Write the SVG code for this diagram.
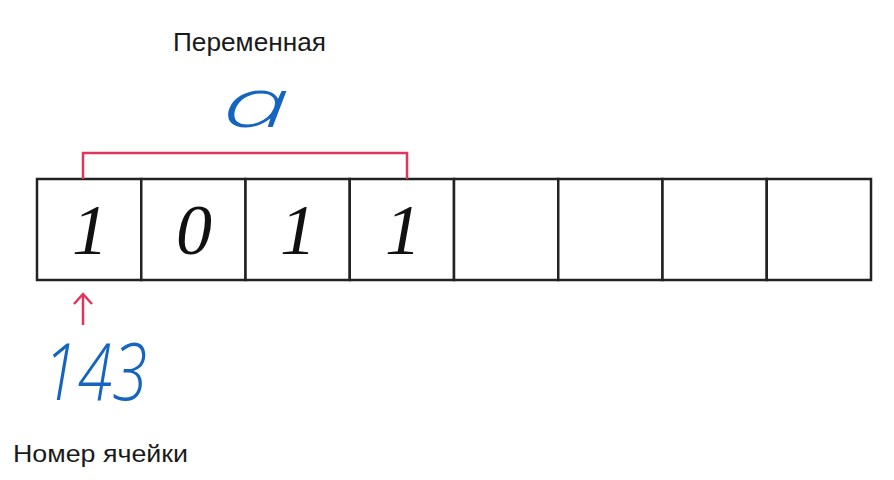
<svg xmlns="http://www.w3.org/2000/svg" width="894" height="480" viewBox="0 0 894 480">
<style>
.cell{fill:#fff;stroke:#222;stroke-width:2.5}
.digit{font-family:"Liberation Serif",serif;font-style:italic;font-size:72px;fill:#111;text-anchor:middle}
.label{font-family:"Liberation Sans",Arial,sans-serif;fill:#1a1a1a}
.hand{font-family:"Open Sans","DejaVu Sans",sans-serif;font-weight:300;font-style:italic;fill:#1565c0}
.red{fill:none;stroke:#e3345e;stroke-width:2.5}
</style>
<rect width="894" height="480" fill="#fff"/>
<g id="title"><text class="label" x="173" y="51" font-size="26" textLength="153" lengthAdjust="spacingAndGlyphs">Переменная</text></g>
<g id="var-a"><text class="hand" x="222" y="127" font-size="68" textLength="68" lengthAdjust="spacingAndGlyphs">a</text></g>
<g id="cells">
<rect class="cell" x="37" y="179" width="104.25" height="101"/>
<rect class="cell" x="141.25" y="179" width="104.25" height="101"/>
<rect class="cell" x="245.5" y="179" width="104.25" height="101"/>
<rect class="cell" x="349.75" y="179" width="104.25" height="101"/>
<rect class="cell" x="454" y="179" width="104.25" height="101"/>
<rect class="cell" x="558.25" y="179" width="104.25" height="101"/>
<rect class="cell" x="662.5" y="179" width="104.25" height="101"/>
<rect class="cell" x="766.75" y="179" width="104.25" height="101"/>
<text class="digit" x="90" y="254">1</text>
<text class="digit" x="194" y="254">0</text>
<text class="digit" x="298" y="254">1</text>
<text class="digit" x="403" y="254">1</text>
</g>
<g id="connectors">
<polyline class="red" points="83,179 83,153 407,153 407,179"/>
<line class="red" x1="83" y1="325" x2="83" y2="294"/>
<polyline class="red" points="74,304 83,294 92,304"/>
</g>
<g id="addr"><text class="hand" x="43" y="400" font-size="80" textLength="104" lengthAdjust="spacingAndGlyphs">143</text></g>
<g id="caption"><text class="label" x="13" y="462" font-size="24" textLength="175" lengthAdjust="spacingAndGlyphs">Номер ячейки</text></g>
</svg>
